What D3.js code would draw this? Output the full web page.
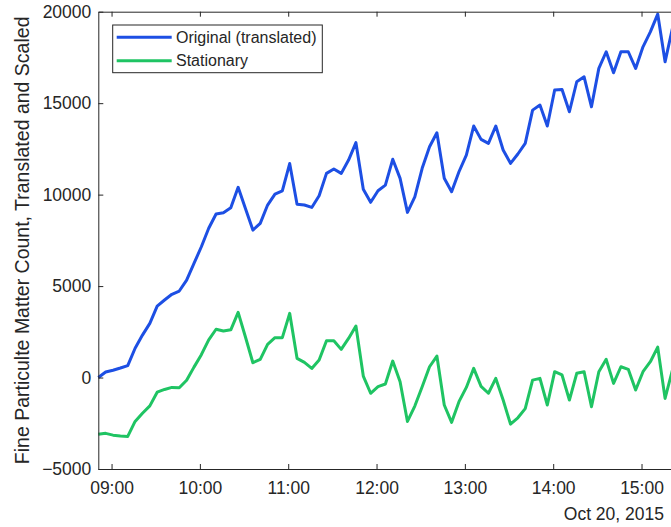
<!DOCTYPE html>
<html>
<head>
<meta charset="utf-8">
<script src="https://cdn.jsdelivr.net/npm/d3@7"></script>
<style>
  html, body { margin: 0; padding: 0; background: #fff; overflow: hidden; }
  svg { display: block; font-family: "Liberation Sans", Arial, sans-serif; }
</style>
</head>
<body>
<svg id="chart" width="671" height="527"></svg>
<script>
// Readings every 5 minutes, starting 08:51 on Oct 20, 2015
const startTime = new Date(2015, 9, 20, 8, 51);
const stepMinutes = 5;

const originalTranslated = [
  0, 300, 400, 520, 650, 1600, 2320, 2960, 3900, 4240,
  4550, 4730, 5330, 6240, 7150, 8160, 8940, 9010, 9280, 10400,
  9230, 8060, 8430, 9430, 10030, 10210, 11700, 9470, 9430, 9300,
  9940, 11160, 11400, 11160, 11890, 12840, 10290, 9580, 10210, 10520,
  11930, 10890, 9030, 9880, 11440, 12620, 13380, 10890, 10160, 11250,
  12160, 13750, 13020, 12800, 13750, 12440, 11710, 12220, 12800, 14620,
  14900, 13750, 15720, 15750, 14530, 16170, 16440, 14800, 16900, 17810,
  16660, 17810, 17810, 16900, 18080, 18900, 19870, 17260, 19090
];

const stationary = [
  -3100, -3050, -3150, -3200, -3220, -2400, -1950, -1550, -800, -650,
  -540, -560, -150, 570, 1250, 2060, 2640, 2540, 2610, 3560,
  2200, 810, 995, 1815, 2180, 2180, 3510, 1050, 830, 500,
  960, 2010, 2010, 1540, 2140, 2820, 80, -860, -500, -355,
  900, -230, -2400, -1560, -500, 590, 1175, -1500, -2450, -1320,
  -540, 500, -480, -860, -45, -1230, -2550, -2200, -1700, -140,
  -45, -1500, 320, 140, -1230, 230, 320, -1600, 320, 995,
  -320, 590, 450, -680, 320, 865, 1660, -1140, 410
];

const yTicks = [-5000, 0, 5000, 10000, 15000, 20000];
const seriesNames = ["Original (translated)", "Stationary"];
const seriesColors = ["#1d4fe4", "#1fc463"];
const dateLabel = "Oct 20, 2015";
const yLabel = "Fine Particulte Matter Count, Translated and Scaled";

const times = originalTranslated.map((_, i) => new Date(startTime.getTime() + i * stepMinutes * 60000));
const endTime = new Date(startTime.getTime() + 79 * stepMinutes * 60000);

const plot = { left: 98.3, top: 11.7, right: 679.8, bottom: 469 };
const ink = "#262626";

const svg = d3.select("#chart");

const x = d3.scaleTime().domain([startTime, endTime]).range([plot.left, plot.right]);
const y = d3.scaleLinear().domain([-5000, 20000]).range([plot.bottom, plot.top]);

// Data lines
const line = d3.line()
  .x((d, i) => x(times[i]))
  .y(d => y(d));

[originalTranslated, stationary].forEach((vals, k) => {
  svg.append("path")
    .datum(vals)
    .attr("fill", "none")
    .attr("stroke", seriesColors[k])
    .attr("stroke-width", 3)
    .attr("stroke-linejoin", "round")
    .attr("d", line);
});

// Axes with inward ticks
const hourTicks = d3.timeHour.every(1);

const xAxis = svg.append("g")
  .attr("transform", `translate(0,${plot.bottom})`)
  .call(d3.axisBottom(x).ticks(hourTicks).tickFormat(d3.timeFormat("%H:%M"))
    .tickSize(-5).tickSizeOuter(0).tickPadding(13));

const xTop = svg.append("g")
  .attr("transform", `translate(0,${plot.top})`)
  .call(d3.axisTop(x).ticks(hourTicks).tickFormat("")
    .tickSize(-5).tickSizeOuter(0));

const yAxis = svg.append("g")
  .attr("transform", `translate(${plot.left},0)`)
  .call(d3.axisLeft(y).tickValues(yTicks).tickFormat(d3.format("d"))
    .tickSize(-5).tickSizeOuter(0).tickPadding(7));

[xAxis, xTop, yAxis].forEach(g => {
  g.select(".domain").attr("stroke", ink).attr("stroke-width", 1);
  g.selectAll(".tick line").attr("stroke", ink).attr("stroke-width", 1);
  g.selectAll(".tick text")
    .attr("fill", ink)
    .style("font-size", "17.5px")
    .style("font-family", "'Liberation Sans', Arial, sans-serif");
});
xAxis.selectAll(".tick text").filter(function (d, i) { return d < startTime; }).remove();

// Date under the time axis
svg.append("text")
  .attr("x", 664)
  .attr("y", 520)
  .attr("text-anchor", "end")
  .attr("fill", ink)
  .style("font-size", "17.5px")
  .text(dateLabel);

// Y axis label
svg.append("text")
  .attr("transform", `translate(28.5,${(plot.top + plot.bottom) / 2}) rotate(-90)`)
  .attr("text-anchor", "middle")
  .attr("fill", ink)
  .style("font-size", "19.5px")
  .text(yLabel);

// Legend
const legend = svg.append("g").attr("transform", "translate(112.7,25)");
legend.append("rect")
  .attr("x", 0).attr("y", 0)
  .attr("width", 209.6).attr("height", 47.7)
  .attr("fill", "#fff")
  .attr("stroke", ink)
  .attr("stroke-width", 1);

seriesNames.forEach((name, k) => {
  const ly = 12.3 + k * 23.4;
  legend.append("line")
    .attr("x1", 4).attr("x2", 59)
    .attr("y1", ly).attr("y2", ly)
    .attr("stroke", seriesColors[k])
    .attr("stroke-width", 3);
  legend.append("text")
    .attr("x", 63.3)
    .attr("y", ly)
    .attr("dy", "0.35em")
    .attr("fill", ink)
    .style("font-size", "16px")
    .text(name);
});
</script>
</body>
</html>
